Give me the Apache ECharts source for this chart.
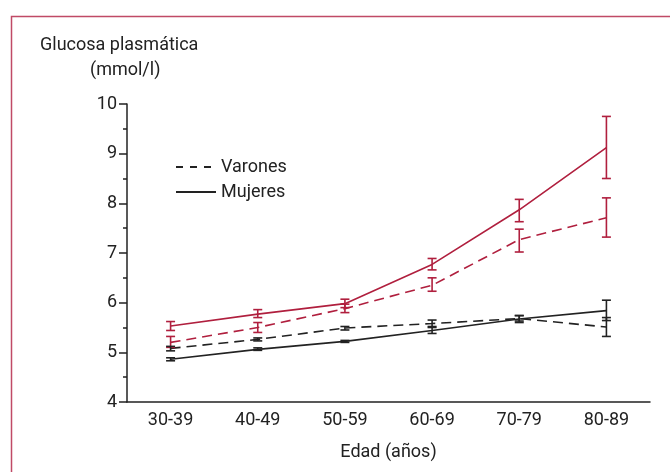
<!DOCTYPE html>
<html>
<head>
<meta charset="utf-8">
<script src="https://cdn.jsdelivr.net/npm/echarts@6/dist/echarts.min.js"></script>
<style>
  html, body { margin: 0; padding: 0; background: #fff; }
  #chart { width: 670px; height: 472px; }
</style>
</head>
<body>
<div id="chart"></div>
<script>
var categories = ['30-39', '40-49', '50-59', '60-69', '70-79', '80-89'];
var yTicks = [4, 5, 6, 7, 8, 9, 10];

// red group
var varonesRojo = [5.20, 5.50, 5.88, 6.35, 7.27, 7.71];
var varonesRojoErr = [[5.10, 5.32], [5.40, 5.60], [5.80, 5.97], [6.23, 6.50], [7.02, 7.48], [7.32, 8.11]];
var mujeresRojo = [5.53, 5.77, 5.98, 6.77, 7.87, 9.12];
var mujeresRojoErr = [[5.44, 5.62], [5.70, 5.86], [5.90, 6.07], [6.66, 6.89], [7.63, 8.08], [8.50, 9.75]];
// black group
var varonesNegro = [5.08, 5.26, 5.49, 5.58, 5.68, 5.51];
var varonesNegroErr = [[5.03, 5.12], [5.23, 5.29], [5.45, 5.52], [5.52, 5.65], [5.63, 5.74], [5.32, 5.70]];
var mujeresNegro = [4.86, 5.06, 5.22, 5.44, 5.67, 5.84];
var mujeresNegroErr = [[4.83, 4.89], [5.04, 5.09], [5.20, 5.24], [5.38, 5.50], [5.60, 5.74], [5.64, 6.05]];

var RED = '#b01f3e', BLACK = '#222222';
var FONT = '"Liberation Sans Narrow", "Roboto", sans-serif';
var DASH = [10, 6];

function errData(arr) {
  return arr.map(function (e, i) { return [i, e[0], e[1]]; });
}

function errSeries(arr, color) {
  return {
    type: 'custom',
    xAxisIndex: 0,
    z: 3,
    data: errData(arr),
    renderItem: function (params, api) {
      var lo = api.coord([api.value(0), api.value(1)]);
      var hi = api.coord([api.value(0), api.value(2)]);
      var w = 4.5;
      var st = { stroke: color, lineWidth: 1.6 };
      return {
        type: 'group',
        children: [
          { type: 'line', shape: { x1: lo[0], y1: lo[1], x2: hi[0], y2: hi[1] }, style: st },
          { type: 'line', shape: { x1: lo[0] - w, y1: lo[1], x2: lo[0] + w, y2: lo[1] }, style: st },
          { type: 'line', shape: { x1: hi[0] - w, y1: hi[1], x2: hi[0] + w, y2: hi[1] }, style: st }
        ]
      };
    }
  };
}

function lineSeries(name, data, color, dashed) {
  return {
    name: name,
    type: 'line',
    xAxisIndex: 0,
    data: data,
    symbol: 'none',
    z: 2,
    lineStyle: { color: color, width: 1.6, type: dashed ? DASH : 'solid' },
    itemStyle: { color: color }
  };
}

var chart = echarts.init(document.getElementById('chart'));
var option = {
  backgroundColor: '#fff',
  animation: false,
  textStyle: { fontFamily: FONT },
  grid: { left: 127, right: 20, top: 104, bottom: 70 },
  legend: {
    orient: 'vertical',
    left: 170,
    top: 153,
    itemWidth: 40,
    itemHeight: 12,
    itemGap: 7,
    itemStyle: { opacity: 0 },
    textStyle: { fontFamily: FONT, fontSize: 18, color: '#222' },
    data: [
      { name: 'Varones', lineStyle: { type: [7, 7] } },
      { name: 'Mujeres' }
    ]
  },
  xAxis: [
    {
      type: 'category',
      data: categories,
      boundaryGap: true,
      name: 'Edad (años)',
      nameLocation: 'middle',
      nameGap: 41,
      nameTextStyle: { fontFamily: FONT, fontSize: 18, color: '#222' },
      axisLine: { lineStyle: { color: '#222', width: 1.5 } },
      axisTick: { alignWithLabel: true, length: 5, lineStyle: { color: '#222', width: 1.5 } },
      axisLabel: { fontFamily: FONT, fontSize: 18, color: '#222', margin: 9 },
      splitLine: { show: false }
    },
    {
      type: 'category',
      data: categories,
      boundaryGap: true,
      position: 'bottom',
      axisLine: { show: false },
      axisTick: { length: 3, lineStyle: { color: '#222', width: 1.5 } },
      axisLabel: { show: false },
      splitLine: { show: false }
    }
  ],
  yAxis: {
    type: 'value',
    min: yTicks[0],
    max: yTicks[yTicks.length - 1],
    interval: 1,
    axisLine: { show: true, lineStyle: { color: '#222', width: 1.5 } },
    axisTick: { show: true, length: 8, lineStyle: { color: '#222', width: 1.5 } },
    minorTick: { show: true, splitNumber: 2, length: 4, lineStyle: { color: '#222', width: 1.5 } },
    axisLabel: { fontFamily: FONT, fontSize: 18, color: '#222', margin: 10 },
    splitLine: { show: false }
  },
  graphic: [
    {
      type: 'rect',
      left: 9, top: 14,
      shape: { width: 720, height: 520 },
      style: { fill: 'none', stroke: '#c04a66', lineWidth: 1.5 },
      silent: true
    },
    {
      type: 'text', left: 40, top: 36,
      style: { text: 'Glucosa plasmática', font: '18px ' + FONT, fill: '#222' }
    },
    {
      type: 'text', left: 90, top: 61,
      style: { text: '(mmol/l)', font: '18px ' + FONT, fill: '#222' }
    }
  ],
  series: [
    lineSeries('Varones ', varonesRojo, RED, true),
    lineSeries('Mujeres ', mujeresRojo, RED, false),
    lineSeries('Varones', varonesNegro, BLACK, true),
    lineSeries('Mujeres', mujeresNegro, BLACK, false),
    errSeries(varonesRojoErr, RED),
    errSeries(mujeresRojoErr, RED),
    errSeries(varonesNegroErr, BLACK),
    errSeries(mujeresNegroErr, BLACK)
  ]
};
chart.setOption(option);
</script>
</body>
</html>
